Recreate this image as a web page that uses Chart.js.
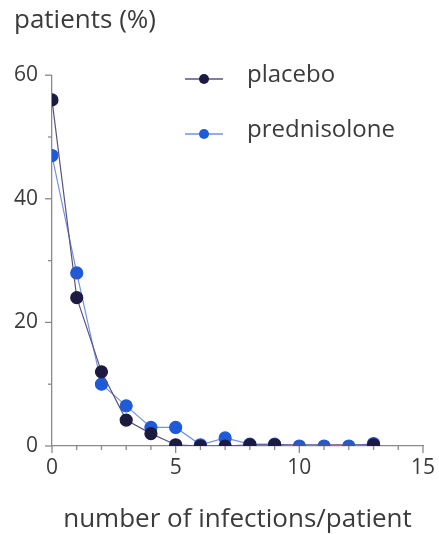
<!DOCTYPE html>
<html>
<head>
<meta charset="utf-8">
<script src="https://cdn.jsdelivr.net/npm/chart.js@4"></script>
<style>
html,body{margin:0;padding:0;background:#fff;}
#c{display:block;}
</style>
</head>
<body>
<canvas id="c" width="439" height="535"></canvas>
<script>
const placeboX = [0,1,2,3,4,5,6,7,8,9,13];
const placeboY = [56,24,12,4.2,2,0.2,0,0,0.2,0.2,0.2];
const prednisoloneX = [0,1,2,3,4,5,6,7,8,9,10,11,12,13];
const prednisoloneY = [47,28,10,6.5,3,3,0.2,1.3,0.3,0.3,0,0,0,0.4];
const xTicks = [0,5,10,15];
const yTicks = [0,20,40,60];
const seriesNames = ['placebo','prednisolone'];

const FONT = '"Open Sans", Lato, sans-serif';
const TXT = '#3b3b3b';
const AX = '#8a8a8a';

function pts(xs, ys){ return xs.map((x,i)=>({x:x, y:ys[i]})); }

const minorTicks = {
  id:'minorTicks',
  afterDraw(chart){
    const ctx = chart.ctx, xs = chart.scales.x, ys = chart.scales.y;
    ctx.save();
    ctx.strokeStyle = AX; ctx.lineWidth = 1.3;
    const by = ys.getPixelForValue(0), lx = xs.getPixelForValue(0);
    for(let v=0; v<=15; v++){
      const px = xs.getPixelForValue(v);
      const len = (v%5===0)?7:4;
      ctx.beginPath(); ctx.moveTo(px, by); ctx.lineTo(px, by+len); ctx.stroke();
    }
    for(let v=0; v<=60; v+=10){
      const py = ys.getPixelForValue(v);
      const len = (v%20===0)?7:4;
      ctx.beginPath(); ctx.moveTo(lx, py); ctx.lineTo(lx-len, py); ctx.stroke();
    }
    ctx.restore();
  }
};

const legendPlugin = {
  id:'customLegend',
  afterDraw(chart){
    const ctx = chart.ctx;
    const rows = [79, 134];
    ctx.save();
    chart.data.datasets.forEach((ds,i)=>{
      const y = rows[i];
      ctx.strokeStyle = ds.borderColor; ctx.lineWidth = 1.3;
      ctx.beginPath(); ctx.moveTo(185,y); ctx.lineTo(223,y); ctx.stroke();
      ctx.fillStyle = ds.pointBackgroundColor;
      ctx.beginPath(); ctx.arc(204,y,5,0,Math.PI*2); ctx.fill();
      ctx.fillStyle = TXT;
      ctx.font = '24px ' + FONT;
      ctx.textBaseline = 'middle';
      ctx.fillText(ds.label, 247, y-4);
    });
    ctx.restore();
  }
};

new Chart(document.getElementById('c'), {
  type:'scatter',
  data:{
    datasets:[
      {label:seriesNames[0], data:pts(placeboX, placeboY), showLine:true,
       borderColor:'#5a5382', borderWidth:1.2, pointBackgroundColor:'#1d1a42',
       pointBorderColor:'#1d1a42', pointRadius:6, tension:0},
      {label:seriesNames[1], data:pts(prednisoloneX, prednisoloneY), showLine:true,
       borderColor:'#7592e2', borderWidth:1.2, pointBackgroundColor:'#1f5ad8',
       pointBorderColor:'#1f5ad8', pointRadius:6, tension:0}
    ]
  },
  options:{
    responsive:false, animation:false, devicePixelRatio:1,
    layout:{padding:{left:14, right:0, top:0, bottom:0}},
    plugins:{
      legend:{display:false}, tooltip:{enabled:false},
      title:{display:true, text:'patients (%)', align:'start', color:TXT,
             font:{family:FONT, size:26, weight:'normal'}, padding:{top:5, bottom:39}}
    },
    scales:{
      x:{type:'linear', min:0, max:15,
         afterBuildTicks(s){ s.ticks = xTicks.map(v=>({value:v})); },
         afterFit(s){ s.height = 89; s.paddingRight = 16; },
         grid:{display:false, drawTicks:false},
         border:{display:true, color:AX, width:1.3},
         ticks:{color:TXT, padding:9, font:{family:FONT, size:21}},
         title:{display:true, text:'number of infections/patient', color:TXT,
                font:{family:FONT, size:26}, padding:{top:0, bottom:0}}
      },
      y:{type:'linear', min:0, max:60,
         afterBuildTicks(s){ s.ticks = yTicks.map(v=>({value:v})); },
         afterFit(s){ s.width = 38; },
         grid:{display:false, drawTicks:false},
         border:{display:true, color:AX, width:1.3},
         ticks:{color:TXT, padding:14, font:{family:FONT, size:21}}
      }
    }
  },
  plugins:[minorTicks, legendPlugin]
});
</script>
</body>
</html>
